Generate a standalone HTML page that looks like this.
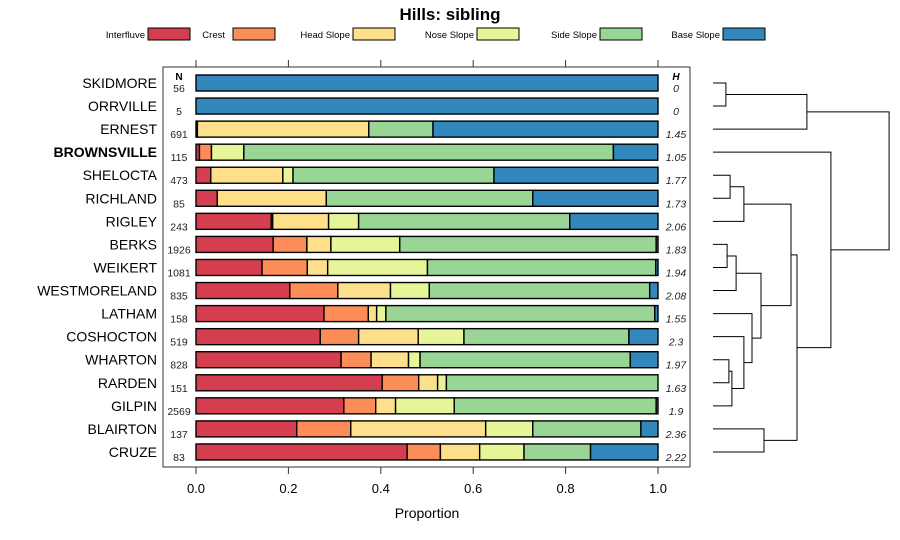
<!DOCTYPE html>
<html><head><meta charset="utf-8"><style>
body{margin:0;background:#fff}
svg{display:block;font-family:"Liberation Sans",sans-serif}
</style></head><body>
<svg id="chart" width="900" height="540" viewBox="0 0 900 540">
<text x="450" y="20" text-anchor="middle" font-size="17" font-weight="bold">Hills: sibling</text>
<g id="legend"></g>
<rect x="163" y="67" width="527" height="400" fill="none" stroke="#333" stroke-width="1"/>
<g id="bars"></g>
<g id="axis"></g>
<text x="427" y="518" text-anchor="middle" font-size="14">Proportion</text>
<text x="179" y="80" text-anchor="middle" font-size="10" font-weight="bold">N</text>
<text x="676" y="80" text-anchor="middle" font-size="10" font-weight="bold" font-style="italic">H</text>
<g id="dendro" fill="none" stroke="#000" stroke-width="1"></g>
</svg>
<script>
const categories=["SKIDMORE","ORRVILLE","ERNEST","BROWNSVILLE","SHELOCTA","RICHLAND","RIGLEY","BERKS","WEIKERT","WESTMORELAND","LATHAM","COSHOCTON","WHARTON","RARDEN","GILPIN","BLAIRTON","CRUZE"];
const seriesNames=["Interfluve","Crest","Head Slope","Nose Slope","Side Slope","Base Slope"];
const interfluve=[0,0,0.003,0.0075,0.032,0.046,0.163,0.167,0.143,0.203,0.277,0.269,0.314,0.403,0.320,0.218,0.457];
const crest=[0,0,0,0.026,0,0,0.003,0.073,0.098,0.104,0.096,0.083,0.065,0.079,0.069,0.117,0.072];
const headSlope=[0,0,0.371,0,0.156,0.236,0.121,0.052,0.044,0.114,0.018,0.129,0.081,0.041,0.043,0.292,0.085];
const noseSlope=[0,0,0,0.070,0.022,0,0.065,0.149,0.216,0.084,0.020,0.099,0.025,0.019,0.127,0.102,0.096];
const sideSlope=[0,0,0.139,0.800,0.435,0.447,0.457,0.555,0.494,0.477,0.582,0.357,0.455,0.458,0.437,0.234,0.144];
const baseSlope=[1,1,0.487,0.096,0.355,0.271,0.191,0.004,0.005,0.018,0.007,0.063,0.060,0,0.004,0.037,0.146];
const nValues=["56","5","691","115","473","85","243","1926","1081","835","158","519","828","151","2569","137","83"];
const hValues=["0","0","1.45","1.05","1.77","1.73","2.06","1.83","1.94","2.08","1.55","2.3","1.97","1.63","1.9","2.36","2.22"];
const xTicks=[0,0.2,0.4,0.6,0.8,1.0];
const xTickLabels=["0.0","0.2","0.4","0.6","0.8","1.0"];
const colors=["#D53E4F","#FC8D59","#FEE08B","#E6F598","#99D594","#3288BD"];
const series=[interfluve,crest,headSlope,noseSlope,sideSlope,baseSlope];
// dendrogram merge heights (distance units), leaves by index
const dendroTree=[[[[0,1,0.43],2,3.13],[3,[[[[4,5,0.57],6,1.03],[[[7,8,0.47],9,0.77],[10,[11,[[12,13,0.53],14,0.63],1.03],1.3],1.6],2.6],[15,16,1.7],2.8],3.93],5.87]];

const NS="http://www.w3.org/2000/svg";
const svg=document.getElementById('chart');
function mk(tag,attrs,parent){const e=document.createElementNS(NS,tag);for(const k in attrs)e.setAttribute(k,attrs[k]);parent.appendChild(e);return e;}
const xScale=v=>196+v*462;
const yScale=i=>83+i*23.06;

// legend
const legend=document.getElementById('legend');
const legX=[145,225,350,474,597,720];
seriesNames.forEach((s,i)=>{
  const t=mk('text',{x:legX[i],y:38,'text-anchor':'end','font-size':9.5},legend);t.textContent=s;
  
  
  const r=mk('rect',{x:legX[i]+3+(i==1?5:0),y:28,width:42,height:12,fill:colors[i],stroke:'#000','stroke-width':1},legend);
  
  
});

// bars
const bars=document.getElementById('bars');
categories.forEach((c,i)=>{
  const cy=yScale(i);
  const lab=mk('text',{x:157,y:cy+5,'text-anchor':'end','font-size':14,'font-weight':c==='BROWNSVILLE'?'bold':'normal'},bars);
  lab.textContent=c;
  
  
  let cum=0;
  series.forEach((arr,j)=>{
    const v=arr[i];
    if(v>0){
      const r=mk('rect',{x:xScale(cum),y:cy-8,width:xScale(cum+v)-xScale(cum),height:16,fill:colors[j],stroke:'#000','stroke-width':1.4},bars);
      
      
    }
    cum+=v;
  });
  const nt=mk('text',{x:179,y:cy+9,'text-anchor':'middle','font-size':10.5,fill:'#222'},bars);
  nt.textContent=nValues[i];
  
  
  const ht=mk('text',{x:676,y:cy+9,'text-anchor':'middle','font-size':10.5,'font-style':'italic',fill:'#222'},bars);
  ht.textContent=hValues[i];
  
  
});

// axis
const axis=document.getElementById('axis');
xTicks.forEach((t,i)=>{
  const x=xScale(t);
  mk('line',{x1:x,x2:x,y1:60,y2:67,stroke:'#333'},axis);
  mk('line',{x1:x,x2:x,y1:467,y2:474,stroke:'#333'},axis);
  const tl=mk('text',{x:x,y:493,'text-anchor':'middle','font-size':13},axis);
  tl.textContent=xTickLabels[i];
  
  
});

// dendrogram
const dg=document.getElementById('dendro');
const hx=h=>713+h*30;
function draw(n){
  if(typeof n==='number') return {y:yScale(n),h:0};
  const a=draw(n[0]),b=draw(n[1]),h=n[2];
  const p=mk('path',{d:`M${hx(a.h)},${a.y}H${hx(h)}V${b.y}H${hx(b.h)}`},dg);
  
  
  return {y:(a.y+b.y)/2,h:h};
}
draw(dendroTree[0]);
</script>
</body></html>
